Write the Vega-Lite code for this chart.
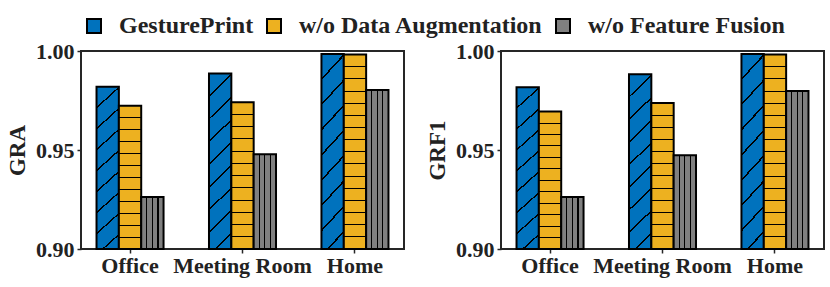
{
  "$schema": "https://vega.github.io/schema/vega-lite/v6.json",
  "background": "white",
  "padding": {"left": 5, "top": 14, "right": 2, "bottom": 3},
  "data": {
    "values": [
      {"metric": "GRA", "env": "Office", "method": "GesturePrint", "value": 0.982},
      {"metric": "GRA", "env": "Office", "method": "w/o Data Augmentation", "value": 0.9724},
      {"metric": "GRA", "env": "Office", "method": "w/o Feature Fusion", "value": 0.9262},
      {"metric": "GRA", "env": "Meeting Room", "method": "GesturePrint", "value": 0.9886},
      {"metric": "GRA", "env": "Meeting Room", "method": "w/o Data Augmentation", "value": 0.9741},
      {"metric": "GRA", "env": "Meeting Room", "method": "w/o Feature Fusion", "value": 0.9479},
      {"metric": "GRA", "env": "Home", "method": "GesturePrint", "value": 0.9985},
      {"metric": "GRA", "env": "Home", "method": "w/o Data Augmentation", "value": 0.9982},
      {"metric": "GRA", "env": "Home", "method": "w/o Feature Fusion", "value": 0.9803},
      {"metric": "GRF1", "env": "Office", "method": "GesturePrint", "value": 0.9817},
      {"metric": "GRF1", "env": "Office", "method": "w/o Data Augmentation", "value": 0.9694},
      {"metric": "GRF1", "env": "Office", "method": "w/o Feature Fusion", "value": 0.9262},
      {"metric": "GRF1", "env": "Meeting Room", "method": "GesturePrint", "value": 0.9882},
      {"metric": "GRF1", "env": "Meeting Room", "method": "w/o Data Augmentation", "value": 0.9738},
      {"metric": "GRF1", "env": "Meeting Room", "method": "w/o Feature Fusion", "value": 0.9474},
      {"metric": "GRF1", "env": "Home", "method": "GesturePrint", "value": 0.9985},
      {"metric": "GRF1", "env": "Home", "method": "w/o Data Augmentation", "value": 0.9982},
      {"metric": "GRF1", "env": "Home", "method": "w/o Feature Fusion", "value": 0.9798}
    ]
  },
  "spacing": 20,
  "hconcat": [
    {
      "width": 323,
      "height": 198,
      "transform": [{"filter": "datum.metric === 'GRA'"}],
      "encoding": {
        "x": {"field": "env", "type": "nominal", "sort": ["Office", "Meeting Room", "Home"], "title": null,
              "scale": {"paddingInner": 0.404, "paddingOuter": 0.138},
              "axis": {"labelAngle": 0, "labelPadding": 2}},
        "xOffset": {"field": "method", "type": "nominal", "scale": {"domain": ["GesturePrint", "w/o Data Augmentation", "w/o Feature Fusion"], "paddingInner": 0, "paddingOuter": 0}},
        "y": {"field": "value", "type": "quantitative", "scale": {"domain": [0.9, 1.0], "nice": false, "zero": false},
              "axis": {"values": [0.9, 0.95, 1.0], "format": ".2f", "title": "GRA", "labelPadding": 3, "titlePadding": 6}},
        "y2": {"datum": 0.9}
      },
      "layer": [
        {
          "mark": {"type": "bar", "stroke": "black", "strokeWidth": 2},
          "encoding": {
            "color": {"field": "method", "type": "nominal",
                      "scale": {"domain": ["GesturePrint", "w/o Data Augmentation", "w/o Feature Fusion"], "range": ["#0072BD", "#EDB120", "#808080"]},
                      "legend": {"orient": "none", "legendX": 1, "legendY": -37, "direction": "horizontal", "title": null}}
          }
        },
        {
          "transform": [{"filter": "datum.method === 'GesturePrint'"}],
          "mark": {"type": "bar", "strokeWidth": 0, "fill": {"gradient": "linear", "x1": 0, "y1": 0, "x2": 0.138, "y2": 1.108, "stops": [
            {"offset": 0, "color": "rgba(0,0,0,0)"},
            {"offset": 0.11, "color": "rgba(0,0,0,0)"}, {"offset": 0.11, "color": "#000"}, {"offset": 0.12, "color": "#000"}, {"offset": 0.12, "color": "rgba(0,0,0,0)"},
            {"offset": 0.225, "color": "rgba(0,0,0,0)"}, {"offset": 0.225, "color": "#000"}, {"offset": 0.235, "color": "#000"}, {"offset": 0.235, "color": "rgba(0,0,0,0)"},
            {"offset": 0.34, "color": "rgba(0,0,0,0)"}, {"offset": 0.34, "color": "#000"}, {"offset": 0.35, "color": "#000"}, {"offset": 0.35, "color": "rgba(0,0,0,0)"},
            {"offset": 0.455, "color": "rgba(0,0,0,0)"}, {"offset": 0.455, "color": "#000"}, {"offset": 0.465, "color": "#000"}, {"offset": 0.465, "color": "rgba(0,0,0,0)"},
            {"offset": 0.57, "color": "rgba(0,0,0,0)"}, {"offset": 0.57, "color": "#000"}, {"offset": 0.58, "color": "#000"}, {"offset": 0.58, "color": "rgba(0,0,0,0)"},
            {"offset": 0.685, "color": "rgba(0,0,0,0)"}, {"offset": 0.685, "color": "#000"}, {"offset": 0.695, "color": "#000"}, {"offset": 0.695, "color": "rgba(0,0,0,0)"},
            {"offset": 0.8, "color": "rgba(0,0,0,0)"}, {"offset": 0.8, "color": "#000"}, {"offset": 0.81, "color": "#000"}, {"offset": 0.81, "color": "rgba(0,0,0,0)"},
            {"offset": 0.915, "color": "rgba(0,0,0,0)"}, {"offset": 0.915, "color": "#000"}, {"offset": 0.925, "color": "#000"}, {"offset": 0.925, "color": "rgba(0,0,0,0)"},
            {"offset": 1, "color": "rgba(0,0,0,0)"}]}},
          "encoding": {}
        },
        {
          "transform": [{"filter": "datum.method === 'w/o Data Augmentation'"}],
          "mark": {"type": "bar", "strokeWidth": 0},
          "encoding": {
            "fill": {"condition": {"test": "datum.value < 0.99", "value": {"gradient": "linear", "x1": 0, "y1": 0, "x2": 0, "y2": 1, "stops": [
              {"offset": 0, "color": "rgba(0,0,0,0)"},
              {"offset": 0.0798, "color": "rgba(0,0,0,0)"}, {"offset": 0.0798, "color": "#000"}, {"offset": 0.0868, "color": "#000"}, {"offset": 0.0868, "color": "rgba(0,0,0,0)"},
              {"offset": 0.1632, "color": "rgba(0,0,0,0)"}, {"offset": 0.1632, "color": "#000"}, {"offset": 0.1702, "color": "#000"}, {"offset": 0.1702, "color": "rgba(0,0,0,0)"},
              {"offset": 0.2465, "color": "rgba(0,0,0,0)"}, {"offset": 0.2465, "color": "#000"}, {"offset": 0.2535, "color": "#000"}, {"offset": 0.2535, "color": "rgba(0,0,0,0)"},
              {"offset": 0.3298, "color": "rgba(0,0,0,0)"}, {"offset": 0.3298, "color": "#000"}, {"offset": 0.3368, "color": "#000"}, {"offset": 0.3368, "color": "rgba(0,0,0,0)"},
              {"offset": 0.4132, "color": "rgba(0,0,0,0)"}, {"offset": 0.4132, "color": "#000"}, {"offset": 0.4202, "color": "#000"}, {"offset": 0.4202, "color": "rgba(0,0,0,0)"},
              {"offset": 0.4965, "color": "rgba(0,0,0,0)"}, {"offset": 0.4965, "color": "#000"}, {"offset": 0.5035, "color": "#000"}, {"offset": 0.5035, "color": "rgba(0,0,0,0)"},
              {"offset": 0.5798, "color": "rgba(0,0,0,0)"}, {"offset": 0.5798, "color": "#000"}, {"offset": 0.5868, "color": "#000"}, {"offset": 0.5868, "color": "rgba(0,0,0,0)"},
              {"offset": 0.6632, "color": "rgba(0,0,0,0)"}, {"offset": 0.6632, "color": "#000"}, {"offset": 0.6702, "color": "#000"}, {"offset": 0.6702, "color": "rgba(0,0,0,0)"},
              {"offset": 0.7465, "color": "rgba(0,0,0,0)"}, {"offset": 0.7465, "color": "#000"}, {"offset": 0.7535, "color": "#000"}, {"offset": 0.7535, "color": "rgba(0,0,0,0)"},
              {"offset": 0.8298, "color": "rgba(0,0,0,0)"}, {"offset": 0.8298, "color": "#000"}, {"offset": 0.8368, "color": "#000"}, {"offset": 0.8368, "color": "rgba(0,0,0,0)"},
              {"offset": 0.9132, "color": "rgba(0,0,0,0)"}, {"offset": 0.9132, "color": "#000"}, {"offset": 0.9202, "color": "#000"}, {"offset": 0.9202, "color": "rgba(0,0,0,0)"},
              {"offset": 1, "color": "rgba(0,0,0,0)"}]}},
              "value": {"gradient": "linear", "x1": 0, "y1": 0, "x2": 0, "y2": 1, "stops": [
              {"offset": 0, "color": "rgba(0,0,0,0)"},
              {"offset": 0.0599, "color": "rgba(0,0,0,0)"}, {"offset": 0.0599, "color": "#000"}, {"offset": 0.0651, "color": "#000"}, {"offset": 0.0651, "color": "rgba(0,0,0,0)"},
              {"offset": 0.1224, "color": "rgba(0,0,0,0)"}, {"offset": 0.1224, "color": "#000"}, {"offset": 0.1276, "color": "#000"}, {"offset": 0.1276, "color": "rgba(0,0,0,0)"},
              {"offset": 0.1849, "color": "rgba(0,0,0,0)"}, {"offset": 0.1849, "color": "#000"}, {"offset": 0.1901, "color": "#000"}, {"offset": 0.1901, "color": "rgba(0,0,0,0)"},
              {"offset": 0.2474, "color": "rgba(0,0,0,0)"}, {"offset": 0.2474, "color": "#000"}, {"offset": 0.2526, "color": "#000"}, {"offset": 0.2526, "color": "rgba(0,0,0,0)"},
              {"offset": 0.3099, "color": "rgba(0,0,0,0)"}, {"offset": 0.3099, "color": "#000"}, {"offset": 0.3151, "color": "#000"}, {"offset": 0.3151, "color": "rgba(0,0,0,0)"},
              {"offset": 0.3724, "color": "rgba(0,0,0,0)"}, {"offset": 0.3724, "color": "#000"}, {"offset": 0.3776, "color": "#000"}, {"offset": 0.3776, "color": "rgba(0,0,0,0)"},
              {"offset": 0.4349, "color": "rgba(0,0,0,0)"}, {"offset": 0.4349, "color": "#000"}, {"offset": 0.4401, "color": "#000"}, {"offset": 0.4401, "color": "rgba(0,0,0,0)"},
              {"offset": 0.4974, "color": "rgba(0,0,0,0)"}, {"offset": 0.4974, "color": "#000"}, {"offset": 0.5026, "color": "#000"}, {"offset": 0.5026, "color": "rgba(0,0,0,0)"},
              {"offset": 0.5599, "color": "rgba(0,0,0,0)"}, {"offset": 0.5599, "color": "#000"}, {"offset": 0.5651, "color": "#000"}, {"offset": 0.5651, "color": "rgba(0,0,0,0)"},
              {"offset": 0.6224, "color": "rgba(0,0,0,0)"}, {"offset": 0.6224, "color": "#000"}, {"offset": 0.6276, "color": "#000"}, {"offset": 0.6276, "color": "rgba(0,0,0,0)"},
              {"offset": 0.6849, "color": "rgba(0,0,0,0)"}, {"offset": 0.6849, "color": "#000"}, {"offset": 0.6901, "color": "#000"}, {"offset": 0.6901, "color": "rgba(0,0,0,0)"},
              {"offset": 0.7474, "color": "rgba(0,0,0,0)"}, {"offset": 0.7474, "color": "#000"}, {"offset": 0.7526, "color": "#000"}, {"offset": 0.7526, "color": "rgba(0,0,0,0)"},
              {"offset": 0.8099, "color": "rgba(0,0,0,0)"}, {"offset": 0.8099, "color": "#000"}, {"offset": 0.8151, "color": "#000"}, {"offset": 0.8151, "color": "rgba(0,0,0,0)"},
              {"offset": 0.8724, "color": "rgba(0,0,0,0)"}, {"offset": 0.8724, "color": "#000"}, {"offset": 0.8776, "color": "#000"}, {"offset": 0.8776, "color": "rgba(0,0,0,0)"},
              {"offset": 0.9349, "color": "rgba(0,0,0,0)"}, {"offset": 0.9349, "color": "#000"}, {"offset": 0.9401, "color": "#000"}, {"offset": 0.9401, "color": "rgba(0,0,0,0)"},
              {"offset": 1, "color": "rgba(0,0,0,0)"}]}}
          }
        },
        {
          "transform": [{"filter": "datum.method === 'w/o Feature Fusion'"}],
          "mark": {"type": "bar", "strokeWidth": 0, "fill": {"gradient": "linear", "x1": 0, "y1": 0, "x2": 1, "y2": 0, "stops": [
            {"offset": 0, "color": "rgba(0,0,0,0)"},
            {"offset": 0.225, "color": "rgba(0,0,0,0)"}, {"offset": 0.225, "color": "#000"}, {"offset": 0.275, "color": "#000"}, {"offset": 0.275, "color": "rgba(0,0,0,0)"},
            {"offset": 0.475, "color": "rgba(0,0,0,0)"}, {"offset": 0.475, "color": "#000"}, {"offset": 0.525, "color": "#000"}, {"offset": 0.525, "color": "rgba(0,0,0,0)"},
            {"offset": 0.725, "color": "rgba(0,0,0,0)"}, {"offset": 0.725, "color": "#000"}, {"offset": 0.775, "color": "#000"}, {"offset": 0.775, "color": "rgba(0,0,0,0)"},
            {"offset": 1, "color": "rgba(0,0,0,0)"}]}},
          "encoding": {}
        }
      ]
    },
    {
      "width": 323,
      "height": 198,
      "transform": [{"filter": "datum.metric === 'GRF1'"}],
      "encoding": {
        "x": {"field": "env", "type": "nominal", "sort": ["Office", "Meeting Room", "Home"], "title": null,
              "scale": {"paddingInner": 0.404, "paddingOuter": 0.138},
              "axis": {"labelAngle": 0, "labelPadding": 2}},
        "xOffset": {"field": "method", "type": "nominal", "scale": {"domain": ["GesturePrint", "w/o Data Augmentation", "w/o Feature Fusion"], "paddingInner": 0, "paddingOuter": 0}},
        "y": {"field": "value", "type": "quantitative", "scale": {"domain": [0.9, 1.0], "nice": false, "zero": false},
              "axis": {"values": [0.9, 0.95, 1.0], "format": ".2f", "title": "GRF1", "labelPadding": 3, "titlePadding": 6}},
        "y2": {"datum": 0.9}
      },
      "layer": [
        {
          "mark": {"type": "bar", "stroke": "black", "strokeWidth": 2},
          "encoding": {
            "color": {"field": "method", "type": "nominal",
                      "scale": {"domain": ["GesturePrint", "w/o Data Augmentation", "w/o Feature Fusion"], "range": ["#0072BD", "#EDB120", "#808080"]},
                      "legend": {"orient": "none", "legendX": 1, "legendY": -37, "direction": "horizontal", "title": null}}
          }
        },
        {
          "transform": [{"filter": "datum.method === 'GesturePrint'"}],
          "mark": {"type": "bar", "strokeWidth": 0, "fill": {"gradient": "linear", "x1": 0, "y1": 0, "x2": 0.138, "y2": 1.108, "stops": [
            {"offset": 0, "color": "rgba(0,0,0,0)"},
            {"offset": 0.11, "color": "rgba(0,0,0,0)"}, {"offset": 0.11, "color": "#000"}, {"offset": 0.12, "color": "#000"}, {"offset": 0.12, "color": "rgba(0,0,0,0)"},
            {"offset": 0.225, "color": "rgba(0,0,0,0)"}, {"offset": 0.225, "color": "#000"}, {"offset": 0.235, "color": "#000"}, {"offset": 0.235, "color": "rgba(0,0,0,0)"},
            {"offset": 0.34, "color": "rgba(0,0,0,0)"}, {"offset": 0.34, "color": "#000"}, {"offset": 0.35, "color": "#000"}, {"offset": 0.35, "color": "rgba(0,0,0,0)"},
            {"offset": 0.455, "color": "rgba(0,0,0,0)"}, {"offset": 0.455, "color": "#000"}, {"offset": 0.465, "color": "#000"}, {"offset": 0.465, "color": "rgba(0,0,0,0)"},
            {"offset": 0.57, "color": "rgba(0,0,0,0)"}, {"offset": 0.57, "color": "#000"}, {"offset": 0.58, "color": "#000"}, {"offset": 0.58, "color": "rgba(0,0,0,0)"},
            {"offset": 0.685, "color": "rgba(0,0,0,0)"}, {"offset": 0.685, "color": "#000"}, {"offset": 0.695, "color": "#000"}, {"offset": 0.695, "color": "rgba(0,0,0,0)"},
            {"offset": 0.8, "color": "rgba(0,0,0,0)"}, {"offset": 0.8, "color": "#000"}, {"offset": 0.81, "color": "#000"}, {"offset": 0.81, "color": "rgba(0,0,0,0)"},
            {"offset": 0.915, "color": "rgba(0,0,0,0)"}, {"offset": 0.915, "color": "#000"}, {"offset": 0.925, "color": "#000"}, {"offset": 0.925, "color": "rgba(0,0,0,0)"},
            {"offset": 1, "color": "rgba(0,0,0,0)"}]}},
          "encoding": {}
        },
        {
          "transform": [{"filter": "datum.method === 'w/o Data Augmentation'"}],
          "mark": {"type": "bar", "strokeWidth": 0},
          "encoding": {
            "fill": {"condition": {"test": "datum.value < 0.99", "value": {"gradient": "linear", "x1": 0, "y1": 0, "x2": 0, "y2": 1, "stops": [
              {"offset": 0, "color": "rgba(0,0,0,0)"},
              {"offset": 0.0798, "color": "rgba(0,0,0,0)"}, {"offset": 0.0798, "color": "#000"}, {"offset": 0.0868, "color": "#000"}, {"offset": 0.0868, "color": "rgba(0,0,0,0)"},
              {"offset": 0.1632, "color": "rgba(0,0,0,0)"}, {"offset": 0.1632, "color": "#000"}, {"offset": 0.1702, "color": "#000"}, {"offset": 0.1702, "color": "rgba(0,0,0,0)"},
              {"offset": 0.2465, "color": "rgba(0,0,0,0)"}, {"offset": 0.2465, "color": "#000"}, {"offset": 0.2535, "color": "#000"}, {"offset": 0.2535, "color": "rgba(0,0,0,0)"},
              {"offset": 0.3298, "color": "rgba(0,0,0,0)"}, {"offset": 0.3298, "color": "#000"}, {"offset": 0.3368, "color": "#000"}, {"offset": 0.3368, "color": "rgba(0,0,0,0)"},
              {"offset": 0.4132, "color": "rgba(0,0,0,0)"}, {"offset": 0.4132, "color": "#000"}, {"offset": 0.4202, "color": "#000"}, {"offset": 0.4202, "color": "rgba(0,0,0,0)"},
              {"offset": 0.4965, "color": "rgba(0,0,0,0)"}, {"offset": 0.4965, "color": "#000"}, {"offset": 0.5035, "color": "#000"}, {"offset": 0.5035, "color": "rgba(0,0,0,0)"},
              {"offset": 0.5798, "color": "rgba(0,0,0,0)"}, {"offset": 0.5798, "color": "#000"}, {"offset": 0.5868, "color": "#000"}, {"offset": 0.5868, "color": "rgba(0,0,0,0)"},
              {"offset": 0.6632, "color": "rgba(0,0,0,0)"}, {"offset": 0.6632, "color": "#000"}, {"offset": 0.6702, "color": "#000"}, {"offset": 0.6702, "color": "rgba(0,0,0,0)"},
              {"offset": 0.7465, "color": "rgba(0,0,0,0)"}, {"offset": 0.7465, "color": "#000"}, {"offset": 0.7535, "color": "#000"}, {"offset": 0.7535, "color": "rgba(0,0,0,0)"},
              {"offset": 0.8298, "color": "rgba(0,0,0,0)"}, {"offset": 0.8298, "color": "#000"}, {"offset": 0.8368, "color": "#000"}, {"offset": 0.8368, "color": "rgba(0,0,0,0)"},
              {"offset": 0.9132, "color": "rgba(0,0,0,0)"}, {"offset": 0.9132, "color": "#000"}, {"offset": 0.9202, "color": "#000"}, {"offset": 0.9202, "color": "rgba(0,0,0,0)"},
              {"offset": 1, "color": "rgba(0,0,0,0)"}]}},
              "value": {"gradient": "linear", "x1": 0, "y1": 0, "x2": 0, "y2": 1, "stops": [
              {"offset": 0, "color": "rgba(0,0,0,0)"},
              {"offset": 0.0599, "color": "rgba(0,0,0,0)"}, {"offset": 0.0599, "color": "#000"}, {"offset": 0.0651, "color": "#000"}, {"offset": 0.0651, "color": "rgba(0,0,0,0)"},
              {"offset": 0.1224, "color": "rgba(0,0,0,0)"}, {"offset": 0.1224, "color": "#000"}, {"offset": 0.1276, "color": "#000"}, {"offset": 0.1276, "color": "rgba(0,0,0,0)"},
              {"offset": 0.1849, "color": "rgba(0,0,0,0)"}, {"offset": 0.1849, "color": "#000"}, {"offset": 0.1901, "color": "#000"}, {"offset": 0.1901, "color": "rgba(0,0,0,0)"},
              {"offset": 0.2474, "color": "rgba(0,0,0,0)"}, {"offset": 0.2474, "color": "#000"}, {"offset": 0.2526, "color": "#000"}, {"offset": 0.2526, "color": "rgba(0,0,0,0)"},
              {"offset": 0.3099, "color": "rgba(0,0,0,0)"}, {"offset": 0.3099, "color": "#000"}, {"offset": 0.3151, "color": "#000"}, {"offset": 0.3151, "color": "rgba(0,0,0,0)"},
              {"offset": 0.3724, "color": "rgba(0,0,0,0)"}, {"offset": 0.3724, "color": "#000"}, {"offset": 0.3776, "color": "#000"}, {"offset": 0.3776, "color": "rgba(0,0,0,0)"},
              {"offset": 0.4349, "color": "rgba(0,0,0,0)"}, {"offset": 0.4349, "color": "#000"}, {"offset": 0.4401, "color": "#000"}, {"offset": 0.4401, "color": "rgba(0,0,0,0)"},
              {"offset": 0.4974, "color": "rgba(0,0,0,0)"}, {"offset": 0.4974, "color": "#000"}, {"offset": 0.5026, "color": "#000"}, {"offset": 0.5026, "color": "rgba(0,0,0,0)"},
              {"offset": 0.5599, "color": "rgba(0,0,0,0)"}, {"offset": 0.5599, "color": "#000"}, {"offset": 0.5651, "color": "#000"}, {"offset": 0.5651, "color": "rgba(0,0,0,0)"},
              {"offset": 0.6224, "color": "rgba(0,0,0,0)"}, {"offset": 0.6224, "color": "#000"}, {"offset": 0.6276, "color": "#000"}, {"offset": 0.6276, "color": "rgba(0,0,0,0)"},
              {"offset": 0.6849, "color": "rgba(0,0,0,0)"}, {"offset": 0.6849, "color": "#000"}, {"offset": 0.6901, "color": "#000"}, {"offset": 0.6901, "color": "rgba(0,0,0,0)"},
              {"offset": 0.7474, "color": "rgba(0,0,0,0)"}, {"offset": 0.7474, "color": "#000"}, {"offset": 0.7526, "color": "#000"}, {"offset": 0.7526, "color": "rgba(0,0,0,0)"},
              {"offset": 0.8099, "color": "rgba(0,0,0,0)"}, {"offset": 0.8099, "color": "#000"}, {"offset": 0.8151, "color": "#000"}, {"offset": 0.8151, "color": "rgba(0,0,0,0)"},
              {"offset": 0.8724, "color": "rgba(0,0,0,0)"}, {"offset": 0.8724, "color": "#000"}, {"offset": 0.8776, "color": "#000"}, {"offset": 0.8776, "color": "rgba(0,0,0,0)"},
              {"offset": 0.9349, "color": "rgba(0,0,0,0)"}, {"offset": 0.9349, "color": "#000"}, {"offset": 0.9401, "color": "#000"}, {"offset": 0.9401, "color": "rgba(0,0,0,0)"},
              {"offset": 1, "color": "rgba(0,0,0,0)"}]}}
          }
        },
        {
          "transform": [{"filter": "datum.method === 'w/o Feature Fusion'"}],
          "mark": {"type": "bar", "strokeWidth": 0, "fill": {"gradient": "linear", "x1": 0, "y1": 0, "x2": 1, "y2": 0, "stops": [
            {"offset": 0, "color": "rgba(0,0,0,0)"},
            {"offset": 0.225, "color": "rgba(0,0,0,0)"}, {"offset": 0.225, "color": "#000"}, {"offset": 0.275, "color": "#000"}, {"offset": 0.275, "color": "rgba(0,0,0,0)"},
            {"offset": 0.475, "color": "rgba(0,0,0,0)"}, {"offset": 0.475, "color": "#000"}, {"offset": 0.525, "color": "#000"}, {"offset": 0.525, "color": "rgba(0,0,0,0)"},
            {"offset": 0.725, "color": "rgba(0,0,0,0)"}, {"offset": 0.725, "color": "#000"}, {"offset": 0.775, "color": "#000"}, {"offset": 0.775, "color": "rgba(0,0,0,0)"},
            {"offset": 1, "color": "rgba(0,0,0,0)"}]}},
          "encoding": {}
        }
      ]
    }
  ],
  "config": {
    "font": "Liberation Serif",
    "view": {"stroke": "#262626", "strokeWidth": 2},
    "axis": {"labelFont": "Liberation Serif", "labelFontWeight": "bold", "labelFontSize": 22, "labelColor": "#222222",
             "titleFont": "Liberation Serif", "titleFontWeight": "bold", "titleFontSize": 23, "titleColor": "#222222",
             "tickColor": "#262626", "tickSize": 4, "tickWidth": 1.5, "domain": false, "grid": false},
    "legend": {"labelFont": "Liberation Serif", "labelFontWeight": "bold", "labelFontSize": 24, "labelColor": "#222222",
               "symbolType": "square", "symbolSize": 196, "symbolStrokeColor": "black", "symbolStrokeWidth": 2, "symbolOpacity": 1,
               "labelOffset": 13, "columnPadding": 8, "labelLimit": 400, "padding": 0}
  }
}
